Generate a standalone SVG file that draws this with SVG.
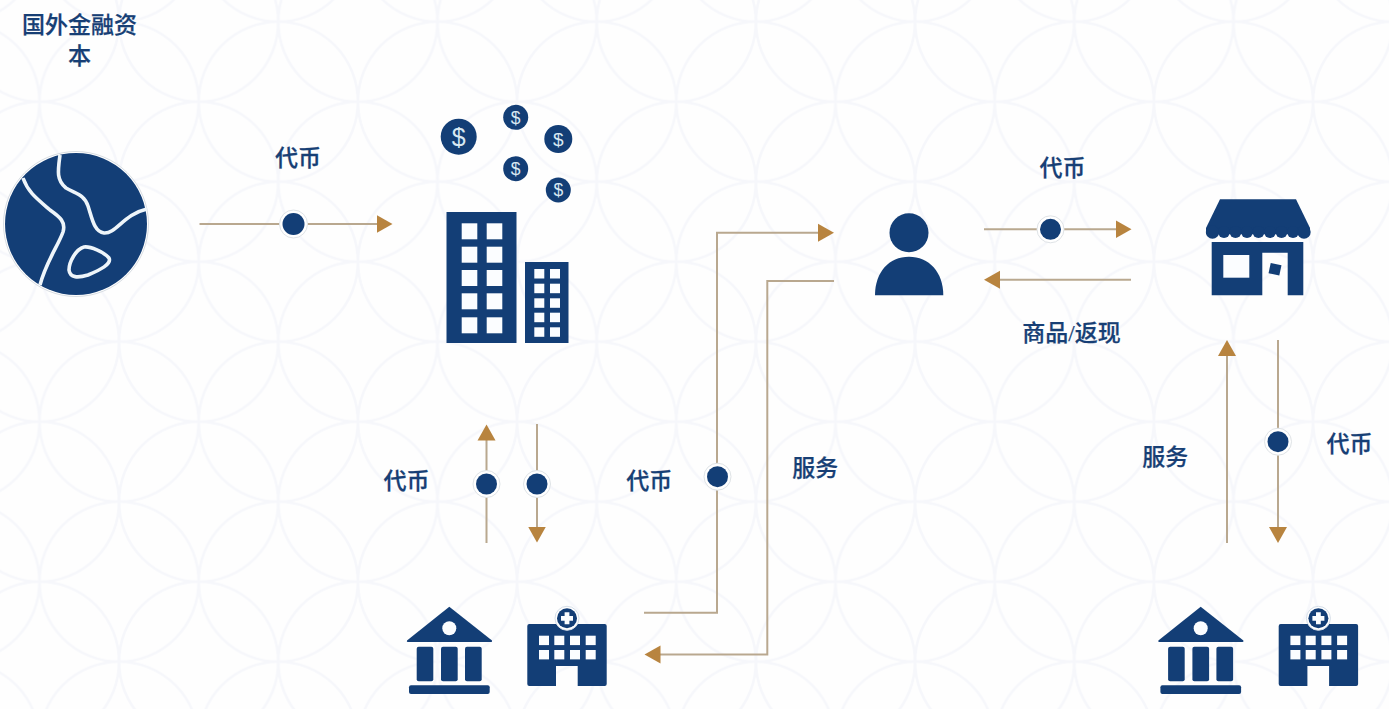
<svg xmlns="http://www.w3.org/2000/svg" width="1389" height="709" viewBox="0 0 1389 709">
<style>
.lbl{font-family:"Liberation Serif","Noto Sans CJK SC",serif;font-size:23px;font-weight:500;fill:#173f75;stroke:#173f75;stroke-width:.25;text-anchor:middle}
.ic{fill:#133e76}
.wh{fill:#fbfdff}
.cn{fill:none;stroke:#b9a88f;stroke-width:2}
.ring{fill:#fff;stroke:#dfe3e6;stroke-width:1}
.dot{fill:#133e76}
.coin{font-family:"Liberation Sans",sans-serif;fill:#d8e8f2;text-anchor:middle}
</style>
<defs>
<pattern id="bg" patternUnits="userSpaceOnUse" x="39.5" y="101.7" width="159.2" height="160">
<g fill="none" stroke="#f6f7fb" stroke-width="2.6">
<ellipse cx="79.6" cy="0" rx="79.6" ry="80"/><ellipse cx="79.6" cy="160" rx="79.6" ry="80"/>
<ellipse cx="0" cy="80" rx="79.6" ry="80"/><ellipse cx="159.2" cy="80" rx="79.6" ry="80"/>
</g>
</pattern>
<marker id="ah" markerUnits="userSpaceOnUse" markerWidth="18" markerHeight="20" viewBox="0 -10 18 20" refX="2" refY="0" orient="auto">
<path d="M0,-9L16,0L0,9Z" fill="#b8843f"/>
</marker>
<g id="bank">
<path class="ic" d="M449.3,606.7L492,640.5Q492.5,642 491,642H408Q406.3,642 407,640.5Z"/>
<circle class="wh" cx="449.3" cy="628.3" r="7"/>
<rect class="ic" x="416.7" y="646.7" width="16.6" height="34.6" rx="2"/>
<rect class="ic" x="441" y="646.7" width="16.7" height="34.6" rx="2"/>
<rect class="ic" x="465" y="646.7" width="16.7" height="34.6" rx="2"/>
<rect class="ic" x="409" y="685.3" width="80.7" height="8.7" rx="2"/>
</g>
<g id="hosp">
<path class="ic" d="M529.3,624H604.7Q606.7,624 606.7,626V684Q606.7,686 604.7,686H577.7V666H556V686H529.3Q527.3,686 527.3,684V626Q527.3,624 529.3,624Z"/>
<g class="wh">
<rect x="539" y="635.7" width="10" height="9.4"/><rect x="554.3" y="635.7" width="10" height="9.4"/><rect x="570" y="635.7" width="10" height="9.4"/><rect x="585.7" y="635.7" width="10" height="9.4"/>
<rect x="539" y="650" width="10" height="9.4"/><rect x="554.3" y="650" width="10" height="9.4"/><rect x="570" y="650" width="10" height="9.4"/><rect x="585.7" y="650" width="10" height="9.4"/>
</g>
<circle cx="567" cy="618.3" r="12" fill="#fff" stroke="#d5dee8" stroke-width="1"/>
<circle class="ic" cx="567" cy="618.3" r="10"/>
<path class="wh" d="M564.6,612.3h4.8v3.6h3.6v4.8h-3.6v3.6h-4.8v-3.6h-3.6v-4.8h3.6z"/>
</g>
</defs>
<rect width="1389" height="709" fill="#fefefe"/>
<rect width="1389" height="709" fill="url(#bg)"/>

<g id="connectors">
<path class="cn" marker-end="url(#ah)" d="M199.5,224H378.5"/>
<path class="cn" marker-end="url(#ah)" d="M486.5,543V438.5"/>
<path class="cn" marker-end="url(#ah)" d="M537,424V528.5"/>
<path class="cn" marker-end="url(#ah)" d="M644,612.7H717V232.7H820"/>
<path class="cn" marker-end="url(#ah)" d="M834,281H767.3V654.5H658.5"/>
<path class="cn" marker-end="url(#ah)" d="M984,229.3H1117.5"/>
<path class="cn" marker-end="url(#ah)" d="M1131,279.7H998"/>
<path class="cn" marker-end="url(#ah)" d="M1227,543V354"/>
<path class="cn" marker-end="url(#ah)" d="M1278,340V529"/>
<g id="dots">
<circle class="ring" cx="293.5" cy="224" r="14"/><circle class="dot" cx="293.5" cy="224" r="11"/>
<circle class="ring" cx="486.5" cy="484" r="13.5"/><circle class="dot" cx="486.5" cy="484" r="10.5"/>
<circle class="ring" cx="537" cy="484" r="13.5"/><circle class="dot" cx="537" cy="484" r="10.5"/>
<circle class="ring" cx="717.5" cy="476.7" r="13.5"/><circle class="dot" cx="717.5" cy="476.7" r="10.5"/>
<circle class="ring" cx="1050.5" cy="229.3" r="13.5"/><circle class="dot" cx="1050.5" cy="229.3" r="10.5"/>
<circle class="ring" cx="1278" cy="441.7" r="13.5"/><circle class="dot" cx="1278" cy="441.7" r="10.5"/>
</g>
</g>

<g id="node-capital">
<circle cx="76" cy="224" r="72.5" fill="#fff" stroke="#d8dde2" stroke-width="1"/>
<circle class="ic" cx="76" cy="224" r="71"/>
<g fill="none" stroke="#eef5fa" stroke-width="3.6">
<path d="M60,155C58,170 56,180 66,188C76,194 84,194 88,206C92,218 94,232 104,233C116,234 124,214 147,209"/>
<path d="M23,178C28,192 36,198 50,210C60,217 66,222 63,232C58,246 46,262 40,285"/>
<path d="M84,247C90,246 104,252 109,258C112,264 100,270 88,275C78,278 70,278 69,270C69,262 76,249 84,247Z"/>
</g>
<text class="lbl" x="79.5" y="33">国外金融资</text>
<text class="lbl" x="79.5" y="64">本</text>
</g>

<g id="node-banks">
<g id="coins">
<circle class="ic" cx="458.7" cy="136.7" r="18"/><text class="coin" x="458.7" y="145.5" font-size="25">$</text>
<circle class="ic" cx="515.7" cy="117.3" r="12.5"/><text class="coin" x="515.7" y="123.5" font-size="17.5">$</text>
<circle class="ic" cx="558.3" cy="139" r="14"/><text class="coin" x="558.3" y="145.5" font-size="19">$</text>
<circle class="ic" cx="515.7" cy="168.7" r="12.5"/><text class="coin" x="515.7" y="175" font-size="17.5">$</text>
<circle class="ic" cx="558.3" cy="190" r="12.5"/><text class="coin" x="558.3" y="196" font-size="17.5">$</text>
</g>
<rect class="ic" x="446.5" y="212" width="70" height="131"/>
<g class="wh">
<rect x="461.7" y="223.3" width="15.6" height="16"/><rect x="486.7" y="223.3" width="15.6" height="16"/>
<rect x="461.7" y="246.7" width="15.6" height="16"/><rect x="486.7" y="246.7" width="15.6" height="16"/>
<rect x="461.7" y="270" width="15.6" height="16"/><rect x="486.7" y="270" width="15.6" height="16"/>
<rect x="461.7" y="293.3" width="15.6" height="16"/><rect x="486.7" y="293.3" width="15.6" height="16"/>
<rect x="461.7" y="317.3" width="15.6" height="16"/><rect x="486.7" y="317.3" width="15.6" height="16"/>
</g>
<rect class="ic" x="525" y="262" width="43.5" height="81"/>
<g class="wh">
<rect x="534.3" y="269" width="10" height="9.5"/><rect x="550" y="269" width="10" height="9.5"/>
<rect x="534.3" y="283.7" width="10" height="9.5"/><rect x="550" y="283.7" width="10" height="9.5"/>
<rect x="534.3" y="298.3" width="10" height="9.5"/><rect x="550" y="298.3" width="10" height="9.5"/>
<rect x="534.3" y="312.7" width="10" height="9.5"/><rect x="550" y="312.7" width="10" height="9.5"/>
<rect x="534.3" y="327.3" width="10" height="9.5"/><rect x="550" y="327.3" width="10" height="9.5"/>
</g>
</g>

<g id="node-person">
<circle class="ic" cx="909" cy="232.7" r="19.5"/>
<path class="ic" d="M875,295.3C875,272 889,256.7 909,256.7C929,256.7 943.3,272 943.3,295.3Z"/>
</g>

<g id="node-shop">
<path class="ic" d="M1220,199.3H1296L1310,228V234H1206V228Z"/>
<g class="ic">
<circle cx="1212.5" cy="232" r="6.7"/><circle cx="1224" cy="232" r="6"/><circle cx="1235.5" cy="232" r="6"/><circle cx="1247" cy="232" r="6"/><circle cx="1258.5" cy="232" r="6"/><circle cx="1270" cy="232" r="6"/><circle cx="1281.5" cy="232" r="6"/><circle cx="1293" cy="232" r="6"/><circle cx="1304" cy="232" r="6.7"/>
</g>
<path class="ic" d="M1211.7,242H1303.3V295.3H1287.7V252.7H1262.3V295.3H1211.7Z"/>
<rect class="wh" x="1223.3" y="255" width="26" height="22.7"/>
<rect class="ic" x="1269.5" y="264" width="11" height="10.5" transform="rotate(12 1275 269.3)"/>
</g>

<g id="node-institutions-left">
<use href="#bank"/>
<use href="#hosp"/>
</g>
<g id="node-institutions-right" transform="translate(751.4 0)">
<use href="#bank"/>
<use href="#hosp"/>
</g>

<g id="labels">
<text class="lbl" x="298" y="165.5">代币</text>
<text class="lbl" x="406.5" y="489">代币</text>
<text class="lbl" x="649.3" y="489">代币</text>
<text class="lbl" x="815.3" y="475.5">服务</text>
<text class="lbl" x="1062.5" y="176">代币</text>
<text class="lbl" x="1071.5" y="340.5">商品/返现</text>
<text class="lbl" x="1165.3" y="465">服务</text>
<text class="lbl" x="1349.5" y="452">代币</text>
</g>
</svg>
